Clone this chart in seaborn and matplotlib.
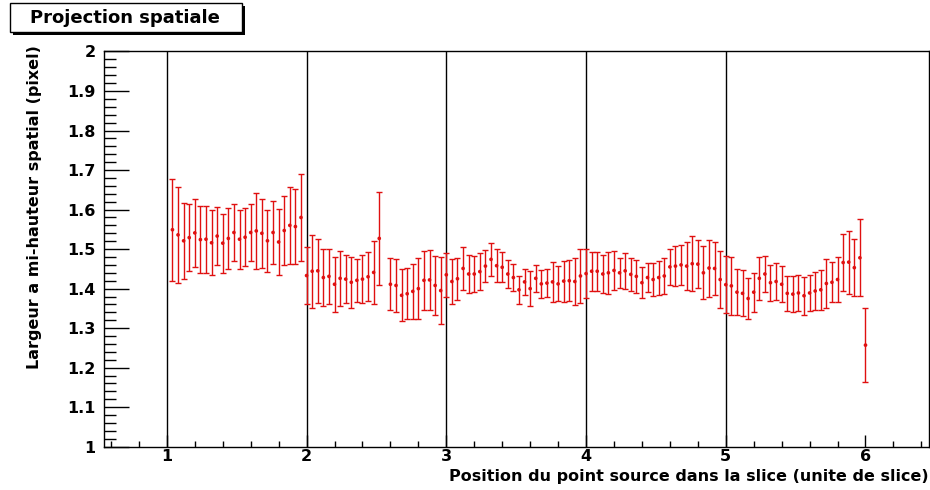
import numpy as np
import pandas as pd
import matplotlib.pyplot as plt
import seaborn as sns
from matplotlib.patches import Rectangle
from matplotlib.ticker import MultipleLocator

sns.set_style("ticks")
plt.rcParams['font.family'] = ['DejaVu Sans']
plt.rcParams['font.weight'] = 'bold'
plt.rcParams['axes.labelweight'] = 'bold'
for key in ['text.color', 'axes.labelcolor', 'xtick.color', 'ytick.color']:
    plt.rcParams[key] = 'black'

# position of the source point (slice units); no measurement at 2.56
positions = [
    1.04, 1.08, 1.12, 1.16, 1.20, 1.24, 1.28, 1.32, 1.36, 1.40, 1.44, 1.48,
    1.52, 1.56, 1.60, 1.64, 1.68, 1.72, 1.76, 1.80, 1.84, 1.88, 1.92, 1.96,
    2.00, 2.04, 2.08, 2.12, 2.16, 2.20, 2.24, 2.28, 2.32, 2.36, 2.40, 2.44,
    2.48, 2.52, 2.60, 2.64, 2.68, 2.72, 2.76, 2.80, 2.84, 2.88, 2.92, 2.96,
    3.00, 3.04, 3.08, 3.12, 3.16, 3.20, 3.24, 3.28, 3.32, 3.36, 3.40, 3.44,
    3.48, 3.52, 3.56, 3.60, 3.64, 3.68, 3.72, 3.76, 3.80, 3.84, 3.88, 3.92,
    3.96, 4.00, 4.04, 4.08, 4.12, 4.16, 4.20, 4.24, 4.28, 4.32, 4.36, 4.40,
    4.44, 4.48, 4.52, 4.56, 4.60, 4.64, 4.68, 4.72, 4.76, 4.80, 4.84, 4.88,
    4.92, 4.96, 5.00, 5.04, 5.08, 5.12, 5.16, 5.20, 5.24, 5.28, 5.32, 5.36,
    5.40, 5.44, 5.48, 5.52, 5.56, 5.60, 5.64, 5.68, 5.72, 5.76, 5.80, 5.84,
    5.88, 5.92, 5.96, 6.00,
]

fwhm = [
    1.549, 1.536, 1.521, 1.529, 1.541, 1.524, 1.525, 1.516, 1.533, 1.515, 1.527, 1.542,
    1.525, 1.530, 1.542, 1.546, 1.540, 1.521, 1.542, 1.518, 1.547, 1.560, 1.557, 1.580,
    1.433, 1.444, 1.445, 1.428, 1.431, 1.411, 1.426, 1.424, 1.416, 1.421, 1.424, 1.430,
    1.441, 1.527, 1.411, 1.408, 1.383, 1.387, 1.393, 1.400, 1.421, 1.422, 1.408, 1.395,
    1.435, 1.418, 1.425, 1.451, 1.437, 1.437, 1.443, 1.457, 1.474, 1.458, 1.454, 1.437,
    1.428, 1.397, 1.417, 1.400, 1.426, 1.412, 1.414, 1.417, 1.412, 1.419, 1.420, 1.418,
    1.432, 1.438, 1.444, 1.444, 1.437, 1.440, 1.446, 1.440, 1.445, 1.436, 1.431, 1.415,
    1.428, 1.423, 1.428, 1.432, 1.455, 1.457, 1.460, 1.457, 1.463, 1.462, 1.440, 1.452,
    1.451, 1.423, 1.410, 1.407, 1.391, 1.388, 1.375, 1.391, 1.426, 1.437, 1.415, 1.418,
    1.411, 1.388, 1.386, 1.389, 1.382, 1.389, 1.394, 1.397, 1.413, 1.416, 1.423, 1.466,
    1.467, 1.453, 1.478, 1.257,
]

fwhm_err = [
    0.129, 0.122, 0.096, 0.085, 0.086, 0.084, 0.085, 0.082, 0.074, 0.075, 0.077, 0.071,
    0.075, 0.074, 0.071, 0.096, 0.087, 0.079, 0.079, 0.083, 0.087, 0.097, 0.094, 0.109,
    0.072, 0.092, 0.081, 0.073, 0.070, 0.070, 0.069, 0.060, 0.065, 0.054, 0.060, 0.062,
    0.080, 0.118, 0.066, 0.068, 0.066, 0.064, 0.070, 0.077, 0.074, 0.075, 0.074, 0.085,
    0.056, 0.056, 0.053, 0.055, 0.047, 0.045, 0.046, 0.040, 0.042, 0.041, 0.038, 0.035,
    0.035, 0.035, 0.033, 0.044, 0.035, 0.036, 0.036, 0.050, 0.044, 0.052, 0.052, 0.059,
    0.068, 0.063, 0.049, 0.049, 0.048, 0.053, 0.050, 0.038, 0.046, 0.041, 0.041, 0.040,
    0.037, 0.042, 0.043, 0.045, 0.046, 0.050, 0.051, 0.061, 0.070, 0.060, 0.067, 0.072,
    0.066, 0.072, 0.072, 0.073, 0.059, 0.058, 0.052, 0.049, 0.054, 0.045, 0.046, 0.046,
    0.046, 0.045, 0.046, 0.046, 0.048, 0.046, 0.047, 0.050, 0.062, 0.051, 0.058, 0.073,
    0.080, 0.072, 0.097, 0.094,
]

slice_edges = [1, 2, 3, 4, 5]

df = pd.DataFrame({"pos": positions, "fwhm": fwhm, "err": fwhm_err})
red = "#e01010"

fig = plt.figure(figsize=(9.3, 4.9), dpi=100)
ax = fig.add_axes([0.1118, 0.0884, 0.8872, 0.8065])

for e in slice_edges:
    ax.axvline(e, color="black", lw=1, zorder=1)

ax.errorbar(df["pos"], df["fwhm"], yerr=df["err"], fmt="none",
            ecolor=red, elinewidth=1, capsize=2.2, capthick=1, zorder=2)
sns.scatterplot(data=df, x="pos", y="fwhm", ax=ax, color=red, s=7,
                edgecolor="none", zorder=3, legend=False)

ax.set_xlim(0.55, 6.455)
ax.set_ylim(1, 2)
ax.xaxis.set_major_locator(MultipleLocator(1))
ax.xaxis.set_minor_locator(MultipleLocator(0.2))
ax.yaxis.set_minor_locator(MultipleLocator(0.02))
ax.set_yticks(np.arange(1, 2.01, 0.1))
ax.set_yticklabels(["1", "1.1", "1.2", "1.3", "1.4", "1.5", "1.6", "1.7", "1.8", "1.9", "2"])
ax.tick_params(axis="y", which="major", direction="in", length=18, width=1,
               labelsize=11.5, pad=6)
ax.tick_params(axis="y", which="minor", direction="in", length=8.5, width=1)
ax.tick_params(axis="x", which="major", direction="in", length=8.5, width=1,
               labelsize=11.5, pad=2)
ax.tick_params(axis="x", which="minor", direction="in", length=4.3, width=1)
for lab in ax.get_xticklabels() + ax.get_yticklabels():
    lab.set_fontweight("bold")
for s in ax.spines.values():
    s.set_color("black")
    s.set_linewidth(1)

ax.set_xlabel("Position du point source dans la slice (unite de slice)",
              fontsize=11.5, fontweight="bold", loc="right")
ax.xaxis.set_label_coords(1.0, -0.057)
ax.set_ylabel("Largeur a mi-hauteur spatial (pixel)",
              fontsize=11.5, fontweight="bold", loc="top")
ax.yaxis.set_label_coords(-0.075, 1.017)

# title box with a drop shadow, ROOT style
W, H = 930, 490
fig.patches.append(Rectangle((13 / W, 1 - 35 / H), 232 / W, 29 / H,
                             transform=fig.transFigure, facecolor="black",
                             edgecolor="none", zorder=5))
fig.patches.append(Rectangle((10 / W, 1 - 32 / H), 232 / W, 29 / H,
                             transform=fig.transFigure, facecolor="white",
                             edgecolor="black", lw=1, zorder=6))
fig.text(125 / W, 1 - 18 / H, "Projection spatiale", ha="center", va="center",
         fontsize=13, fontweight="bold", zorder=7)

fig.savefig("out.png", dpi=100)
